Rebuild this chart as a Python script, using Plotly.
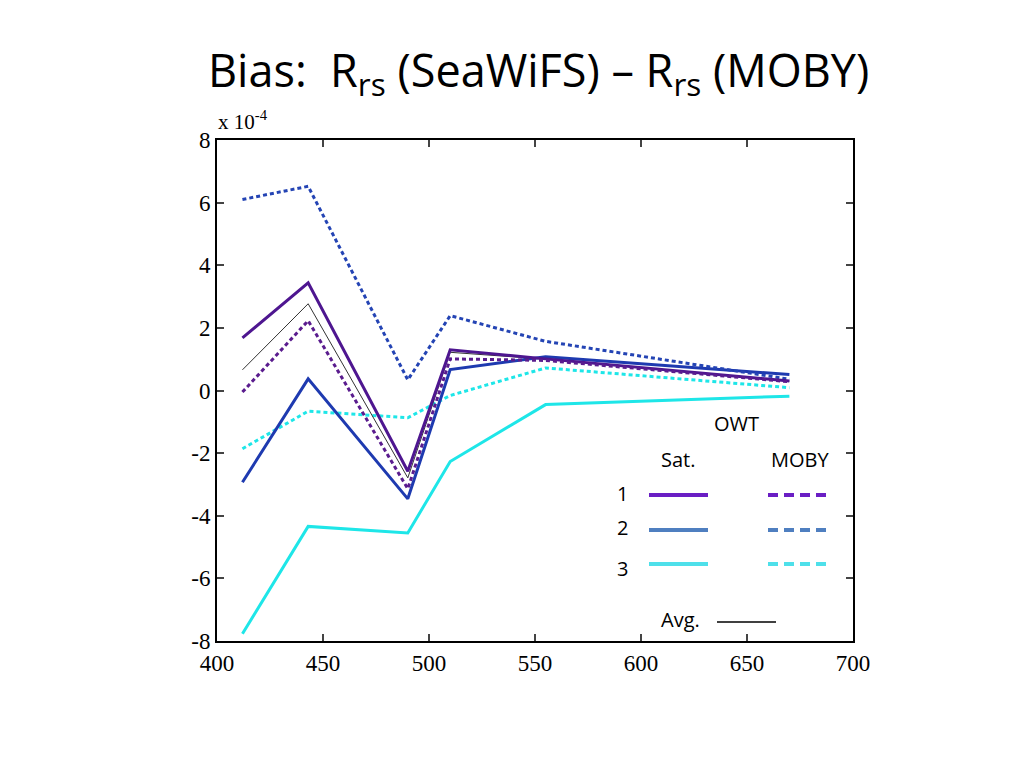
import plotly.graph_objects as go

wavelength = [412, 443, 490, 510, 555, 670]

sat_owt1 = [1.68, 3.44, -2.58, 1.30, 1.01, 0.30]
sat_owt2 = [-2.93, 0.37, -3.46, 0.67, 1.08, 0.51]
sat_owt3 = [-7.77, -4.34, -4.55, -2.27, -0.45, -0.18]
moby_owt1 = [-0.05, 2.23, -3.14, 1.01, 0.96, 0.28]
moby_owt2 = [6.10, 6.52, 0.34, 2.39, 1.57, 0.36]
moby_owt3 = [-1.86, -0.66, -0.87, -0.16, 0.72, 0.09]
avg = [0.66, 2.77, -2.79, 1.22, 1.00, 0.30]

x_ticks = [400, 450, 500, 550, 600, 650, 700]
x_ticklabels = ["400", "450", "500", "550", "600", "650", "700"]
y_ticks = [-8, -6, -4, -2, 0, 2, 4, 6, 8]
y_ticklabels = ["-8", "-6", "-4", "-2", "0", "2", "4", "6", "8"]

c_purple = "#4e1690"
c_blue = "#1e3ab0"
c_cyan = "#1ee6e8"
c_dblue = "#2444b4"
c_dpurple = "#5a1c8e"

fig = go.Figure()
dot = "4px,3px"
fig.add_trace(go.Scatter(x=wavelength, y=sat_owt3, mode="lines", line=dict(color=c_cyan, width=3)))
fig.add_trace(go.Scatter(x=wavelength, y=moby_owt3, mode="lines", line=dict(color=c_cyan, width=3, dash=dot)))
fig.add_trace(go.Scatter(x=wavelength, y=sat_owt2, mode="lines", line=dict(color=c_blue, width=3)))
fig.add_trace(go.Scatter(x=wavelength, y=moby_owt2, mode="lines", line=dict(color=c_dblue, width=3, dash=dot)))
fig.add_trace(go.Scatter(x=wavelength, y=avg, mode="lines", line=dict(color="#333333", width=1)))
fig.add_trace(go.Scatter(x=wavelength, y=sat_owt1, mode="lines", line=dict(color=c_purple, width=3)))
fig.add_trace(go.Scatter(x=wavelength, y=moby_owt1, mode="lines", line=dict(color=c_dpurple, width=3, dash=dot)))

tickfont = dict(family="Liberation Serif, Times New Roman, serif", size=23, color="black")
fig.update_xaxes(range=[400, 700], tickvals=x_ticks, ticktext=x_ticklabels, ticks="inside", ticklen=7, tickwidth=1.5,
                 showline=True, linecolor="black", linewidth=2, mirror="ticks",
                 showgrid=False, zeroline=False, tickfont=tickfont)
fig.update_yaxes(range=[-8, 8], tickvals=y_ticks, ticktext=y_ticklabels, ticks="inside", ticklen=7, tickwidth=1.5,
                 showline=True, linecolor="black", linewidth=2, mirror="ticks",
                 showgrid=False, zeroline=False, tickfont=tickfont)

# page offset of the rendered figure
OFF = 8
L, T = 217 - OFF, 140 - OFF
W, H = 636, 501
fig.update_layout(
    width=1024, height=768,
    margin=dict(l=L, r=1024 - L - W, t=T, b=768 - T - H),
    paper_bgcolor="white", plot_bgcolor="white",
    showlegend=False,
)

def px_x(p):
    return (p - OFF - L) / W

def px_y(p):
    return (T + H - (p - OFF)) / H

sans = "Open Sans, Noto Sans, sans-serif"
lf = dict(family=sans, size=20, color="black")
annotations = [
    dict(text="Bias:  R<sub>rs</sub> (SeaWiFS) – R<sub>rs</sub> (MOBY)", x=px_x(538), y=px_y(72),
         font=dict(family=sans, size=45, color="black")),
    dict(text="x 10<sup>-4</sup>", x=px_x(216), y=px_y(120), xanchor="left",
         font=dict(family="Liberation Serif, serif", size=21, color="black")),
    dict(text="OWT", x=px_x(736), y=px_y(423), font=lf),
    dict(text="Sat.", x=px_x(678), y=px_y(459), font=lf),
    dict(text="MOBY", x=px_x(800), y=px_y(459), font=lf),
    dict(text="1", x=px_x(622), y=px_y(493), font=lf),
    dict(text="2", x=px_x(622), y=px_y(527), font=lf),
    dict(text="3", x=px_x(622), y=px_y(568), font=lf),
    dict(text="Avg.", x=px_x(680), y=px_y(619), font=lf),
]
for a in annotations:
    a.update(xref="paper", yref="paper", showarrow=False)
    a.setdefault("xanchor", "center")
    a.setdefault("yanchor", "middle")

legend_rows = [(495, "#6a1ec4"), (530, "#4f7fc0"), (564, "#4ee0ea")]
shapes = []
for yy, col in legend_rows:
    shapes.append(dict(type="line", xref="paper", yref="paper", x0=px_x(649), x1=px_x(708),
                       y0=px_y(yy), y1=px_y(yy), line=dict(color=col, width=4)))
    shapes.append(dict(type="line", xref="paper", yref="paper", x0=px_x(768), x1=px_x(828),
                       y0=px_y(yy), y1=px_y(yy), line=dict(color=col, width=4, dash="10px,6px")))
shapes.append(dict(type="line", xref="paper", yref="paper", x0=px_x(717), x1=px_x(776),
                   y0=px_y(622), y1=px_y(622), line=dict(color="black", width=1.5)))

fig.update_layout(annotations=annotations, shapes=shapes)
fig.write_html("out.html")
